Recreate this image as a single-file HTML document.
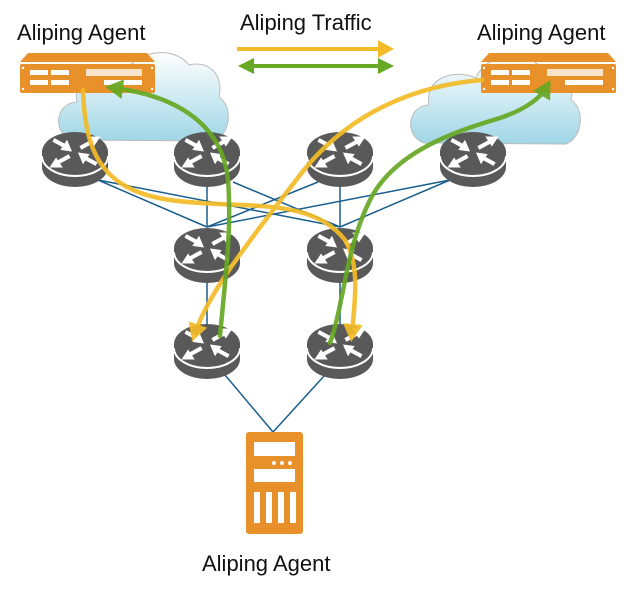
<!DOCTYPE html>
<html><head><meta charset="utf-8"><style>
body{margin:0;background:#fff;}
svg{display:block;}
text{font-family:"Liberation Sans",Arial,sans-serif;font-size:22px;fill:#111;}
</style></head><body>
<svg width="637" height="593" viewBox="0 0 637 593" xmlns="http://www.w3.org/2000/svg">
<defs>
<linearGradient id="cg" x1="0" y1="0" x2="0" y2="1">
<stop offset="0" stop-color="#ffffff"/><stop offset="1" stop-color="#9fd6e6"/>
</linearGradient>
<g id="router">
<ellipse cx="0" cy="15" rx="33" ry="20" fill="#595959"/>
<rect x="-33" y="0" width="66" height="15" fill="#595959"/>
<path d="M-33 4 A33 20 0 0 0 33 4" fill="none" stroke="#fff" stroke-width="2"/>
<ellipse cx="0" cy="0" rx="33" ry="20" fill="#595959"/>
<g stroke="#fff" stroke-width="3" fill="#fff" transform="scale(1.35)">
<line x1="-16" y1="-9" x2="-5" y2="-3"/><polygon points="-3,-1 -10,-2 -6,-8" stroke-width="1"/>
<line x1="16" y1="9" x2="5" y2="3"/><polygon points="3,1 10,2 6,8" stroke-width="1"/>
<line x1="4" y1="-3" x2="15" y2="-9"/><polygon points="18,-11 10,-11 14,-5" stroke-width="1"/>
<line x1="-4" y1="3" x2="-15" y2="9"/><polygon points="-18,11 -10,11 -14,5" stroke-width="1"/>
</g>
</g>
<g id="cloud">
<path d="M20 95 C0 88 3 58 25 57 C20 30 50 20 72 30 C82 5 122 0 137 20 C157 15 172 30 167 52 C182 62 178 90 162 96 Z" fill="url(#cg)" stroke="#bbb" stroke-width="1"/>
</g>
<g id="agent">
<polygon points="8,0 127,0 135,9 0,9" fill="#e8902a"/>
<rect x="0" y="11" width="135" height="29" rx="2" fill="#e8902a"/>
<g fill="#fff">
<rect x="10" y="17" width="18" height="5"/><rect x="31" y="17" width="18" height="5"/>
<rect x="10" y="27" width="18" height="5"/><rect x="31" y="27" width="18" height="5"/>
<rect x="84" y="27" width="38" height="5"/>
<rect x="66" y="16" width="56" height="7" fill="#fff" opacity="0.75"/>
<circle cx="3" cy="15" r="1.2"/><circle cx="132" cy="15" r="1.2"/><circle cx="3" cy="36" r="1.2"/><circle cx="132" cy="36" r="1.2"/>
</g>
</g>
<marker id="ay" markerWidth="4" markerHeight="4.4" refX="2" refY="2.2" orient="auto"><polygon points="0,0 4,2.2 0,4.4" fill="#f2bb27"/></marker>
<marker id="ag" markerWidth="4" markerHeight="4.4" refX="2" refY="2.2" orient="auto"><polygon points="0,0 4,2.2 0,4.4" fill="#67a824"/></marker>
<marker id="agr" markerWidth="4" markerHeight="4" refX="2" refY="2" orient="auto-start-reverse"><polygon points="0,0 4,2 0,4" fill="#67a824"/></marker>
</defs>

<text x="17" y="40">Aliping Agent</text>
<text x="240" y="30">Aliping Traffic</text>
<text x="477" y="40">Aliping Agent</text>
<text x="202" y="571">Aliping Agent</text>

<line x1="237" y1="49" x2="386" y2="49" stroke="#f2bb27" stroke-width="4" marker-end="url(#ay)"/>
<line x1="246" y1="66" x2="386" y2="66" stroke="#67a824" stroke-width="4" marker-end="url(#agr)" marker-start="url(#agr)"/>

<use href="#cloud" transform="translate(52,45)"/>
<use href="#cloud" transform="translate(404,48)"/>

<g stroke="#1a5e8c" stroke-width="1.5" fill="none">
<line x1="98" y1="180" x2="207" y2="227"/><line x1="98" y1="180" x2="340" y2="227"/>
<line x1="207" y1="185" x2="207" y2="227"/><line x1="233" y1="182" x2="340" y2="227"/>
<line x1="340" y1="185" x2="340" y2="227"/><line x1="318" y1="182" x2="207" y2="227"/>
<line x1="450" y1="180" x2="207" y2="227"/><line x1="450" y1="180" x2="340" y2="227"/>
<line x1="207" y1="280" x2="207" y2="325"/><line x1="340" y1="280" x2="340" y2="325"/>
<line x1="225" y1="375" x2="273" y2="432"/><line x1="325" y1="375" x2="273" y2="432"/>
</g>

<use href="#router" transform="translate(75,152)"/>
<use href="#router" transform="translate(207,152)"/>
<use href="#router" transform="translate(340,152)"/>
<use href="#router" transform="translate(473,152)"/>
<use href="#router" transform="translate(207,248)"/>
<use href="#router" transform="translate(340,248)"/>
<use href="#router" transform="translate(207,344)"/>
<use href="#router" transform="translate(340,344)"/>

<use href="#agent" transform="translate(20,53)"/>
<use href="#agent" transform="translate(481,53)"/>

<rect x="246" y="432" width="57" height="102" rx="3" fill="#e8902a"/>
<g fill="#fff">
<rect x="254" y="442" width="41" height="14"/>
<circle cx="274" cy="463" r="2"/><circle cx="282" cy="463" r="2"/><circle cx="290" cy="463" r="2"/>
<rect x="254" y="469" width="41" height="13"/>
<rect x="254" y="492" width="6" height="31"/><rect x="266" y="492" width="6" height="31"/><rect x="278" y="492" width="6" height="31"/><rect x="290" y="492" width="6" height="31"/>
</g>

<g fill="none" stroke-width="4.5" stroke-linecap="round" opacity="0.92">
<path d="M83 90 C85 150 100 190 170 200 C240 210 310 195 345 240 C360 265 355 300 352 333" stroke="#f2bb27" marker-end="url(#ay)"/>
<path d="M482 80 C420 85 350 110 300 175 C250 240 210 290 195 333" stroke="#f2bb27" marker-end="url(#ay)"/>
<path d="M220 336 C225 280 232 230 228 180 C222 120 170 95 114 88" stroke="#67a824" marker-end="url(#ag)"/>
<path d="M330 343 C345 300 345 250 370 200 C395 150 460 130 500 118 C530 108 542 95 546 88" stroke="#67a824" marker-end="url(#ag)"/>
</g>
</svg>
</body></html>
